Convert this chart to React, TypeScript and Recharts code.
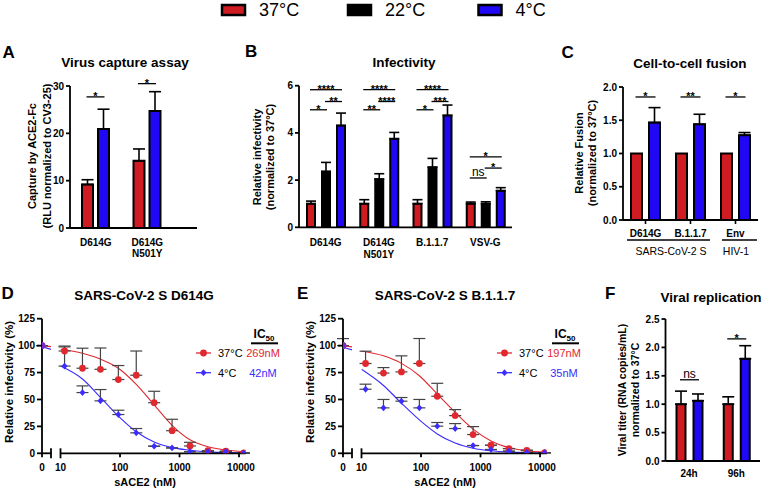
import React from 'react';
import { BarChart, Bar, XAxis, YAxis, ErrorBar, LabelList, ComposedChart, Line, Scatter } from 'recharts';

const FONT = '"Liberation Sans", Arial, sans-serif';
const RED = '#cf1c22';
const BLUE = '#2008f5';
const LRED = '#e0282e';
const LBLUE = '#3b2cff';

// legend
const temps = ['37°C', '22°C', '4°C'];
const tempFills = [RED, '#000', BLUE];

// A - virus capture
const captureCats = ['D614G', 'D614G\nN501Y'];
const capture37 = [9.2, 14.2];
const capture37Err = [1.0, 2.5];
const capture4 = [20.9, 24.7];
const capture4Err = [4.2, 4.1];
const captureSig = [
  { g: 0, from: 0, to: 1, y: 27.7, t: '*' },
  { g: 1, from: 0, to: 1, y: 30.5, t: '*' },
];

// B - infectivity
const infCats = ['D614G', 'D614G\nN501Y', 'B.1.1.7', 'VSV-G'];
const inf37 = [1.0, 1.0, 1.0, 1.0];
const inf37Err = [0.11, 0.17, 0.17, 0.07];
const inf22 = [2.36, 2.04, 2.54, 1.0];
const inf22Err = [0.39, 0.23, 0.38, 0.08];
const inf4 = [4.31, 3.75, 4.74, 1.55];
const inf4Err = [0.53, 0.27, 0.44, 0.13];
const infSig = [
  { g: 0, from: 0, to: 2, y: 5.83, t: '****' },
  { g: 0, from: 1, to: 2, y: 5.33, t: '**' },
  { g: 0, from: 0, to: 1, y: 4.98, t: '*' },
  { g: 1, from: 0, to: 2, y: 5.83, t: '****' },
  { g: 1, from: 1, to: 2, y: 5.33, t: '****' },
  { g: 1, from: 0, to: 1, y: 4.98, t: '**' },
  { g: 2, from: 0, to: 2, y: 5.83, t: '****' },
  { g: 2, from: 1, to: 2, y: 5.33, t: '***' },
  { g: 2, from: 0, to: 1, y: 4.98, t: '*' },
  { g: 3, from: 0, to: 2, y: 2.98, t: '*' },
  { g: 3, from: 1, to: 2, y: 2.51, t: '*' },
  { g: 3, from: 0, to: 1, y: 2.09, t: 'ns' },
];

// C - cell-to-cell fusion
const fusionCats = ['D614G', 'B.1.1.7', 'Env'];
const fusion37 = [1.0, 1.0, 1.0];
const fusion4 = [1.465, 1.44, 1.275];
const fusion4Err = [0.225, 0.15, 0.04];
const fusionSig = [
  { g: 0, from: 0, to: 1, y: 1.85, t: '*' },
  { g: 1, from: 0, to: 1, y: 1.85, t: '**' },
  { g: 2, from: 0, to: 1, y: 1.85, t: '*' },
];

// F - viral replication
const repCats = ['24h', '96h'];
const rep37 = [1.0, 1.0];
const rep37Err = [0.23, 0.13];
const rep4 = [1.06, 1.8];
const rep4Err = [0.12, 0.23];
const repSig = [
  { g: 0, from: 0, to: 1, y: 1.43, t: 'ns' },
  { g: 1, from: 0, to: 1, y: 2.15, t: '*' },
];

// D / E - sACE2 neutralisation
const conc = [11.7, 23.4, 46.9, 93.8, 187.5, 375, 750, 1500, 3000, 6000, 12000];
const d614g37 = [95, 79, 78, 68.5, 72.5, 47, 21, 6.8, 2.4, 1.9, 0.3];
const d614g37Err = [4.6, 18.6, 19.8, 13, 22.5, 10.6, 10.6, 3.4, 0, 0, 0];
const d614g4 = [81, 56.4, 48.7, 36, 19, 6.6, 5, 1.6, 1.6, 1.6, 0.2];
const d614g4Err = [17.8, 6.2, 10.5, 4, 4, 0, 0, 0, 0, 0, 0];
const b117_37 = [83.4, 74.5, 75.6, 83.4, 53, 35, 17.4, 7.5, 4.4, 2.8, 0.5];
const b117_37Err = [11.4, 5.1, 14.9, 23.2, 12, 5.6, 7.4, 0, 0, 0, 0];
const b117_4 = [59.5, 42.2, 48.4, 42.2, 25.2, 23, 7.2, 3.5, 2, 0.8, 0.5];
const b117_4Err = [4.7, 7.8, 3.4, 7.8, 3.4, 4.6, 0, 0, 0, 0, 0];

const curveConc = [10, 23.4, 46.9, 93.8, 187.5, 375, 750, 1500, 3000, 6000, 12000];
const d614gFit37 = [96.7, 93, 87.5, 79, 64, 45, 26, 12.5, 6, 3, 1.5];
const d614gFit4 = [81, 69, 52, 34.5, 20, 10.5, 5.3, 2.9, 1.3, 0.7, 0.4];
const b117Fit37 = [95, 90.5, 83.5, 72, 55, 38, 22.5, 11.5, 5.3, 2.3, 1];
const b117Fit4 = [78, 63, 46.5, 31, 18, 9.5, 4.7, 2.3, 1.1, 0.5, 0.3];

const zeroX = [0, 1];
const d614gZero37 = [100, 99];
const d614gZero4 = [99, 96.5];
const b117Zero37 = [100, 98.8];
const b117Zero4 = [98.5, 96];
const b117ZeroErr = 6.5;

const ic50D = ['269nM', '42nM'];
const ic50E = ['197nM', '35nM'];

type Mark = { g: number; from: number; to: number; y: number; t: string };
type Series = { values: number[]; errs?: number[]; fill: string };

const sigContent = (marks: Mark[], n: number, step: number, lastVals: number[]) => (p: any) => {
  const vb = p.viewBox ?? p;
  const idx: number = p.index;
  const v = lastVals[idx];
  if (!vb || v == null || !vb.height) return null;
  const base = vb.y + vb.height;
  const ppu = vb.height / v;
  const cx = (k: number) => vb.x + vb.width / 2 - (n - 1 - k) * step;
  return (
    <g>
      {marks
        .filter((m) => m.g === idx)
        .map((m, i) => {
          const y = base - m.y * ppu;
          const x1 = cx(m.from);
          const x2 = cx(m.to);
          const ns = m.t === 'ns';
          return (
            <g key={i}>
              <line x1={x1 - 1} x2={x2 + 1} y1={y} y2={y} stroke="#000" strokeWidth={1.3} />
              <text
                x={(x1 + x2) / 2}
                y={ns ? y - 1.5 : y + 3.3}
                textAnchor="middle"
                fontFamily={FONT}
                fontSize={ns ? 12 : 11}
                fontWeight={ns ? 'normal' : 'bold'}
                fill="#000"
              >
                {m.t}
              </text>
            </g>
          );
        })}
    </g>
  );
};

const catTick = (dy: number, tickLen: number) => (p: any) => {
  const lines = String(p.payload.value).split('\n');
  return (
    <g>
      {tickLen > 0 && <line x1={p.x} x2={p.x} y1={p.y} y2={p.y + tickLen} stroke="#000" strokeWidth={1.6} />}
      <text x={p.x} y={p.y + dy} textAnchor="middle" fontFamily={FONT} fontWeight="bold" fontSize={10} fill="#000">
        {lines.map((l, i) => (
          <tspan key={i} x={p.x} dy={i === 0 ? 0 : 11.7}>
            {l}
          </tspan>
        ))}
      </text>
    </g>
  );
};

const axisStyle = { stroke: '#000', strokeWidth: 1.8 };
const tickFont = { fill: '#000', fontSize: 10, fontWeight: 'bold', fontFamily: FONT };

function BarPanel(props: {
  left: number; top: number; width: number; height: number;
  margin: { top: number; right: number; bottom: number; left: number };
  yWidth: number; xHeight: number; cats: string[]; series: Series[];
  domain: [number, number]; ticks: number[]; decimals: number;
  barSize: number; barGap: number; padRight: number; marks: Mark[];
  labelDy: number; tickLen: number; errWidth: number;
}) {
  const { left, top, width, height, margin, yWidth, xHeight, cats, series, domain, ticks, decimals, barSize, barGap, padRight, marks, labelDy, tickLen, errWidth } = props;
  const data = cats.map((c, i) => {
    const row: Record<string, unknown> = { name: c };
    series.forEach((s, k) => {
      row['v' + k] = s.values[i];
      row['e' + k] = [0, s.errs ? s.errs[i] : 0];
    });
    return row;
  });
  const n = series.length;
  const step = barSize + barGap;
  return (
    <div style={{ position: 'absolute', left, top }}>
      <BarChart width={width} height={height} data={data} margin={margin} barSize={barSize} barGap={barGap} style={{ overflow: 'visible' }}>
        <XAxis
          dataKey="name"
          height={xHeight}
          interval={0}
          padding={{ left: 0, right: padRight }}
          tickLine={false}
          tickSize={0}
          tickMargin={0}
          axisLine={axisStyle}
          tick={catTick(labelDy, tickLen)}
        />
        <YAxis
          width={yWidth}
          domain={domain}
          ticks={ticks}
          interval={0}
          allowDataOverflow
          tickSize={4}
          tickMargin={2}
          tickLine={axisStyle}
          axisLine={axisStyle}
          tick={tickFont}
          tickFormatter={(v: number) => v.toFixed(decimals)}
        />
        {series.map((s, k) => (
          <Bar key={k} dataKey={'v' + k} fill={s.fill} stroke="#000" strokeWidth={2} isAnimationActive={false}>
            {s.errs && <ErrorBar dataKey={'e' + k} direction="y" width={errWidth} stroke="#000" strokeWidth={1.6} />}
            {k === n - 1 && <LabelList dataKey={'v' + k} content={sigContent(marks, n, step, s.values)} />}
          </Bar>
        ))}
      </BarChart>
    </div>
  );
}

const dot = (color: string) => (p: any) => <circle cx={p.cx} cy={p.cy} r={3.4} fill={color} />;
const diamond = (color: string) => (p: any) => (
  <path d={`M${p.cx},${p.cy - 3.4}L${p.cx + 3},${p.cy}L${p.cx},${p.cy + 3.4}L${p.cx - 3},${p.cy}Z`} fill={color} />
);

const zeroTick = (p: any) => {
  const v = p.payload.value;
  if (v === 0) {
    return (
      <g>
        <line x1={p.x} x2={p.x} y1={p.y} y2={p.y + 4} stroke="#000" strokeWidth={1.8} />
        <text x={p.x} y={p.y + 18} textAnchor="middle" fontFamily={FONT} fontWeight="bold" fontSize={10} fill="#000">0</text>
      </g>
    );
  }
  return <line x1={p.x} x2={p.x} y1={p.y - 5} y2={p.y + 5} stroke="#000" strokeWidth={1.8} />;
};

const logTick = (p: any) => {
  const v = p.payload.value;
  return (
    <g>
      {v === 10 ? (
        <line x1={p.x} x2={p.x} y1={p.y - 5} y2={p.y + 5} stroke="#000" strokeWidth={1.8} />
      ) : (
        <line x1={p.x} x2={p.x} y1={p.y} y2={p.y + 4} stroke="#000" strokeWidth={1.8} />
      )}
      <text x={p.x + (v === 10000 ? 2 : 0)} y={p.y + 18} textAnchor="middle" fontFamily={FONT} fontWeight="bold" fontSize={10} fill="#000">
        {v}
      </text>
    </g>
  );
};

function DosePanel(props: {
  dx: number; p37: number[]; e37: number[]; p4: number[]; e4: number[];
  c37: number[]; c4: number[]; z37: number[]; z4: number[]; zErr: number;
}) {
  const { dx, p37, e37, p4, e4, c37, c4, z37, z4, zErr } = props;
  const pts37 = conc.map((x, i) => ({ x, y: p37[i], e: [0, e37[i]] }));
  const pts4 = conc.map((x, i) => ({ x, y: p4[i], e: [0, e4[i]] }));
  const fit37 = curveConc.map((x, i) => ({ x, y: c37[i] }));
  const fit4 = curveConc.map((x, i) => ({ x, y: c4[i] }));
  const zl37 = zeroX.map((x, i) => ({ x, y: z37[i] }));
  const zl4 = zeroX.map((x, i) => ({ x, y: z4[i] }));
  const zp37 = [{ x: 0, y: 100, e: [0, zErr] }];
  const zp4 = [{ x: 0, y: 100, e: [0, 0] }];
  const m = { top: 18.7, bottom: 6.7 };
  return (
    <>
      <div style={{ position: 'absolute', left: dx, top: 300 }}>
        <ComposedChart width={55} height={190} margin={{ top: m.top, right: 4, bottom: m.bottom, left: 12 }} style={{ overflow: 'visible' }}>
          <XAxis dataKey="x" type="number" domain={[0, 1]} ticks={[0, 1]} interval={0} height={30} tickLine={false} tickSize={0} tickMargin={0} axisLine={axisStyle} tick={zeroTick} allowDataOverflow />
          <YAxis dataKey="y" type="number" width={30} domain={[0, 125]} ticks={[0, 25, 50, 75, 100, 125]} interval={0} allowDataOverflow tickSize={5} tickMargin={2} tickLine={axisStyle} axisLine={axisStyle} tick={tickFont} />
          <Line data={zl37} dataKey="y" type="linear" stroke={LRED} strokeWidth={1.2} dot={false} isAnimationActive={false} />
          <Line data={zl4} dataKey="y" type="linear" stroke={LBLUE} strokeWidth={1.2} dot={false} isAnimationActive={false} />
          <Scatter data={zp37} shape={dot(LRED)} isAnimationActive={false}>
            <ErrorBar dataKey="e" direction="y" width={6} stroke="#444" strokeWidth={1.2} />
          </Scatter>
          <Scatter data={zp4} shape={dot('#7a2bd0')} isAnimationActive={false} />
        </ComposedChart>
      </div>
      <div style={{ position: 'absolute', left: dx + 55, top: 300 }}>
        <ComposedChart width={212} height={190} margin={{ top: m.top, right: 21.2, bottom: m.bottom, left: 5.5 }} style={{ overflow: 'visible' }}>
          <XAxis dataKey="x" type="number" scale="log" domain={[10, 13000]} ticks={[10, 100, 1000, 10000]} interval={0} height={30} tickLine={false} tickSize={0} tickMargin={0} axisLine={axisStyle} tick={logTick} allowDataOverflow />
          <YAxis dataKey="y" type="number" hide domain={[0, 125]} allowDataOverflow />
          <Line data={fit37} dataKey="y" type="monotone" stroke={LRED} strokeWidth={1.1} dot={false} isAnimationActive={false} />
          <Line data={fit4} dataKey="y" type="monotone" stroke={LBLUE} strokeWidth={1.1} dot={false} isAnimationActive={false} />
          <Scatter data={pts37} shape={dot(LRED)} isAnimationActive={false}>
            <ErrorBar dataKey="e" direction="y" width={6} stroke="#444" strokeWidth={1.2} />
          </Scatter>
          <Scatter data={pts4} shape={diamond(LBLUE)} isAnimationActive={false}>
            <ErrorBar dataKey="e" direction="y" width={6} stroke="#444" strokeWidth={1.2} />
          </Scatter>
        </ComposedChart>
      </div>
    </>
  );
}

const VLabel = ({ x, y, size, children }: { x: number; y: number; size: number; children: React.ReactNode }) => (
  <text transform={`translate(${x},${y}) rotate(-90)`} textAnchor="middle" dominantBaseline="central" fontFamily={FONT} fontWeight="bold" fontSize={size} fill="#000">
    {children}
  </text>
);

const T = ({ x, y, size, bold = true, anchor = 'middle', color = '#000', children }: any) => (
  <text x={x} y={y} textAnchor={anchor} fontFamily={FONT} fontWeight={bold ? 'bold' : 'normal'} fontSize={size} fill={color}>
    {children}
  </text>
);

function DoseLegend({ dx, values }: { dx: number; values: string[] }) {
  return (
    <g>
      <T x={264 + dx} y={338.3} size={12}>
        IC<tspan fontSize={8} dy={2.5}>50</tspan>
      </T>
      <line x1={251 + dx} x2={278 + dx} y1={343.3} y2={343.3} stroke="#000" strokeWidth={2} />
      <line x1={196 + dx} x2={211 + dx} y1={353} y2={353} stroke={LRED} strokeWidth={1.3} />
      <circle cx={203.5 + dx} cy={353} r={3.4} fill={LRED} />
      <T x={218 + dx} y={357.3} size={11} bold={false} anchor="start">{temps[0]}</T>
      <T x={263 + dx} y={357.3} size={11} bold={false} color={LRED}>{values[0]}</T>
      <line x1={196 + dx} x2={211 + dx} y1={372.7} y2={372.7} stroke={LBLUE} strokeWidth={1.3} />
      <path d={`M${203.5 + dx},369.3L${206.5 + dx},372.7L${203.5 + dx},376.1L${200.5 + dx},372.7Z`} fill={LBLUE} />
      <T x={218 + dx} y={377} size={11} bold={false} anchor="start">{temps[2]}</T>
      <T x={263 + dx} y={377} size={11} bold={false} color={LBLUE}>{values[1]}</T>
    </g>
  );
}

export default function App() {
  const legendX = [222, 348, 478.5];
  return (
    <div style={{ position: 'absolute', left: 0, top: 0, width: 765, height: 492, background: '#fff', overflow: 'hidden' }}>
      <BarPanel
        left={0} top={70} width={200} height={190}
        margin={{ top: 16, right: 3, bottom: 2, left: 36 }}
        yWidth={34} xHeight={30}
        cats={captureCats}
        series={[
          { values: capture37, errs: capture37Err, fill: RED },
          { values: capture4, errs: capture4Err, fill: BLUE },
        ]}
        domain={[0, 30]} ticks={[0, 10, 20, 30]} decimals={0}
        barSize={11} barGap={5} padRight={24} marks={captureSig}
        labelDy={17.5} tickLen={0} errWidth={6}
      />
      <BarPanel
        left={245} top={70} width={270} height={190}
        margin={{ top: 15.7, right: 3, bottom: 2.7, left: 20 }}
        yWidth={34} xHeight={30}
        cats={infCats}
        series={[
          { values: inf37, errs: inf37Err, fill: RED },
          { values: inf22, errs: inf22Err, fill: '#000' },
          { values: inf4, errs: inf4Err, fill: BLUE },
        ]}
        domain={[0, 6]} ticks={[0, 2, 4, 6]} decimals={0}
        barSize={8} barGap={7} padRight={0} marks={infSig}
        labelDy={18.5} tickLen={0} errWidth={5}
      />
      <BarPanel
        left={540} top={70} width={220} height={175}
        margin={{ top: 17, right: 2, bottom: 3, left: 53 }}
        yWidth={30} xHeight={22}
        cats={fusionCats}
        series={[
          { values: fusion37, fill: RED },
          { values: fusion4, errs: fusion4Err, fill: BLUE },
        ]}
        domain={[0, 2]} ticks={[0, 0.5, 1, 1.5, 2]} decimals={1}
        barSize={11} barGap={7} padRight={0} marks={fusionSig}
        labelDy={16.7} tickLen={4} errWidth={6}
      />
      <BarPanel
        left={600} top={300} width={162} height={190}
        margin={{ top: 19, right: 2, bottom: 3, left: 35.5 }}
        yWidth={30} xHeight={26}
        cats={repCats}
        series={[
          { values: rep37, errs: rep37Err, fill: RED },
          { values: rep4, errs: rep4Err, fill: BLUE },
        ]}
        domain={[0, 2.5]} ticks={[0, 0.5, 1, 1.5, 2, 2.5]} decimals={1}
        barSize={9} barGap={8} padRight={0} marks={repSig}
        labelDy={15.7} tickLen={0} errWidth={6}
      />
      <DosePanel dx={0} p37={d614g37} e37={d614g37Err} p4={d614g4} e4={d614g4Err} c37={d614gFit37} c4={d614gFit4} z37={d614gZero37} z4={d614gZero4} zErr={0} />
      <DosePanel dx={301} p37={b117_37} e37={b117_37Err} p4={b117_4} e4={b117_4Err} c37={b117Fit37} c4={b117Fit4} z37={b117Zero37} z4={b117Zero4} zErr={b117ZeroErr} />

      <svg width={765} height={492} style={{ position: 'absolute', left: 0, top: 0, pointerEvents: 'none' }}>
        {temps.map((t, i) => (
          <g key={t}>
            <rect x={legendX[i]} y={5} width={23} height={10} fill={tempFills[i]} stroke="#000" strokeWidth={2.5} />
            <T x={legendX[i] + 37} y={16.3} size={18} bold={false} anchor="start">{t}</T>
          </g>
        ))}

        <T x={2.5} y={57.5} size={17} anchor="start">A</T>
        <T x={245} y={57} size={17} anchor="start">B</T>
        <T x={561.5} y={57.5} size={17} anchor="start">C</T>
        <T x={1.5} y={298.5} size={17} anchor="start">D</T>
        <T x={297} y={298.5} size={17} anchor="start">E</T>
        <T x={605} y={298.5} size={17} anchor="start">F</T>

        <T x={125} y={67} size={13.5}>Virus capture assay</T>
        <T x={404} y={67} size={13.5}>Infectivity</T>
        <T x={690} y={67.5} size={13.5}>Cell-to-cell fusion</T>
        <T x={144} y={300} size={13.5}>SARS-CoV-2 S D614G</T>
        <T x={445} y={300} size={13.5}>SARS-CoV-2 S B.1.1.7</T>
        <T x={711} y={302} size={13.5}>Viral replication</T>

        <VLabel x={31.7} y={156} size={11}>Capture by ACE2-Fc</VLabel>
        <VLabel x={46.7} y={156} size={11}>(RLU normalized to CV3-25)</VLabel>
        <VLabel x={256.7} y={157} size={11}>Relative infectivity</VLabel>
        <VLabel x={270} y={157} size={11}>(normalized to 37°C)</VLabel>
        <VLabel x={579.3} y={153} size={11}>Relative Fusion</VLabel>
        <VLabel x={591.7} y={153} size={11}>(normalized to 37°C)</VLabel>
        <VLabel x={8.5} y={382} size={11.5}>Relative infectivity (%)</VLabel>
        <VLabel x={309.5} y={382} size={11.5}>Relative infectivity (%)</VLabel>
        <VLabel x={621.7} y={390} size={10.5}>Viral titer (RNA copies/mL)</VLabel>
        <VLabel x={635} y={390} size={10.5}>normalized to 37°C</VLabel>

        <T x={145} y={486} size={11}>sACE2 (nM)</T>
        <T x={445} y={486} size={11}>sACE2 (nM)</T>

        <line x1={627} x2={710} y1={240} y2={240} stroke="#000" strokeWidth={1.4} />
        <line x1={722} x2={757} y1={240} y2={240} stroke="#000" strokeWidth={1.4} />
        <T x={671} y={255} size={10.5} bold={false}>SARS-CoV-2 S</T>
        <T x={736} y={255} size={10.5} bold={false}>HIV-1</T>

        <DoseLegend dx={0} values={ic50D} />
        <DoseLegend dx={301} values={ic50E} />
      </svg>
    </div>
  );
}
